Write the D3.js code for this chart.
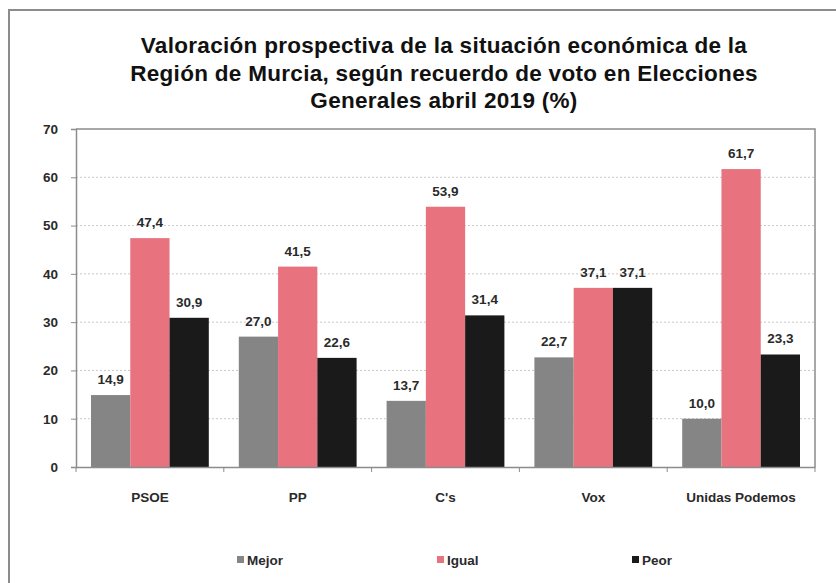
<!DOCTYPE html>
<html>
<head>
<meta charset="utf-8">
<script src="https://cdn.jsdelivr.net/npm/d3@7"></script>
<style>
  body { margin: 0; background: #fff; }
  text { font-family: "Liberation Sans", Arial, sans-serif; }
</style>
</head>
<body>
<div id="chart"></div>
<script>
// data
var categories = ["PSOE", "PP", "C's", "Vox", "Unidas Podemos"];
var seriesNames = ["Mejor", "Igual", "Peor"];
var mejor = [14.9, 27.0, 13.7, 22.7, 10.0];
var igual = [47.4, 41.5, 53.9, 37.1, 61.7];
var peor = [30.9, 22.6, 31.4, 37.1, 23.3];
var yTicks = [0, 10, 20, 30, 40, 50, 60, 70];
var titleLines = [
    "Valoración prospectiva de la situación económica de la",
    "Región de Murcia, según recuerdo de voto en Elecciones",
    "Generales abril 2019 (%)"
];

var colors = { "Mejor": "#858585", "Igual": "#e8737f", "Peor": "#1a1a1a" };
var seriesValues = [mejor, igual, peor];

var svgWidth = 836;
var svgHeight = 583;
var margin = { top: 129, right: 21, bottom: 116, left: 76 };
var width = svgWidth - margin.left - margin.right;
var height = svgHeight - margin.top - margin.bottom;

var svg = d3.select("#chart").append("svg")
    .attr("width", svgWidth)
    .attr("height", svgHeight);

// outer frame
svg.append("rect")
    .attr("x", 9).attr("y", 10)
    .attr("width", 840).attr("height", 590)
    .attr("fill", "#fff")
    .attr("stroke", "#8c8c8c")
    .attr("stroke-width", 2);

// title
svg.append("text")
    .attr("text-anchor", "middle")
    .attr("font-size", "22.5px")
    .attr("font-weight", "bold")
    .attr("letter-spacing", "0.3px")
    .attr("fill", "#111")
    .selectAll("tspan")
    .data(titleLines)
    .enter()
    .append("tspan")
    .attr("x", 444)
    .attr("y", (d, i) => 53 + i * 27.5)
    .text(d => d);

var chartGroup = svg.append("g")
    .attr("transform", `translate(${margin.left}, ${margin.top})`);

var x0 = d3.scaleBand()
    .domain(categories)
    .range([0, width]);

var x1 = d3.scaleBand()
    .domain(seriesNames)
    .range([15, x0.bandwidth() - 15]);

var y = d3.scaleLinear()
    .domain([0, 70])
    .range([height, 0]);

// gridlines
chartGroup.append("g")
    .selectAll("line")
    .data(yTicks.filter(t => t > 0 && t < 70))
    .enter()
    .append("line")
    .attr("x1", 0).attr("x2", width)
    .attr("y1", d => y(d)).attr("y2", d => y(d))
    .attr("stroke", "#c8c8c8")
    .attr("stroke-dasharray", "2,2");

// plot border (top + right)
chartGroup.append("path")
    .attr("d", `M0,0H${width}V${height}`)
    .attr("fill", "none")
    .attr("stroke", "#8c8c8c")
    .attr("stroke-width", 1.5);

// bars
var groups = chartGroup.selectAll(".cat")
    .data(categories)
    .enter()
    .append("g")
    .attr("transform", d => `translate(${x0(d)},0)`);

groups.selectAll("rect")
    .data((d, i) => seriesNames.map((s, j) => ({ s: s, v: seriesValues[j][i] })))
    .enter()
    .append("rect")
    .attr("x", d => x1(d.s))
    .attr("y", d => y(d.v))
    .attr("width", x1.bandwidth())
    .attr("height", d => height - y(d.v))
    .attr("fill", d => colors[d.s]);

groups.selectAll("text")
    .data((d, i) => seriesNames.map((s, j) => ({ s: s, v: seriesValues[j][i] })))
    .enter()
    .append("text")
    .attr("x", d => x1(d.s) + x1.bandwidth() / 2)
    .attr("y", d => y(d.v) - 11)
    .attr("text-anchor", "middle")
    .attr("font-size", "13.5px")
    .attr("font-weight", "bold")
    .attr("fill", "#2a2a2a")
    .text(d => d3.format(".1f")(d.v).replace(".", ","));

// axes
var leftAxis = d3.axisLeft(y).tickValues(yTicks).tickSize(5).tickPadding(13);
var yAxisG = chartGroup.append("g").call(leftAxis);
yAxisG.select(".domain").attr("stroke", "#8c8c8c").attr("stroke-width", 1.5);
yAxisG.selectAll(".tick line").attr("stroke", "#8c8c8c");
yAxisG.selectAll(".tick text")
    .attr("font-size", "13.5px")
    .attr("font-weight", "bold")
    .attr("fill", "#2a2a2a")
    .style("font-family", "Liberation Sans, Arial, sans-serif");

var bottomAxis = d3.axisBottom(x0).tickSize(0).tickPadding(25);
var xAxisG = chartGroup.append("g")
    .attr("transform", `translate(0, ${height})`)
    .call(bottomAxis);
xAxisG.select(".domain").attr("stroke", "#8c8c8c").attr("stroke-width", 1.5);
xAxisG.selectAll(".tick text")
    .attr("font-size", "13.5px")
    .attr("font-weight", "bold")
    .attr("fill", "#2a2a2a")
    .style("font-family", "Liberation Sans, Arial, sans-serif");

// tick marks between categories
chartGroup.append("g")
    .selectAll("line")
    .data(categories.map(c => x0(c)).concat([width]))
    .enter()
    .append("line")
    .attr("x1", d => d).attr("x2", d => d)
    .attr("y1", height).attr("y2", height + 5)
    .attr("stroke", "#8c8c8c");

// legend
var legendX = [237, 437, 632];
var legend = svg.append("g")
    .selectAll("g")
    .data(seriesNames)
    .enter()
    .append("g")
    .attr("transform", (d, i) => `translate(${legendX[i]}, 560)`);

legend.append("rect")
    .attr("x", 0).attr("y", -4)
    .attr("width", 7).attr("height", 7)
    .attr("fill", d => colors[d]);

legend.append("text")
    .attr("x", 10)
    .attr("y", 5)
    .attr("font-size", "13.5px")
    .attr("font-weight", "bold")
    .attr("fill", "#2a2a2a")
    .text(d => d);
</script>
</body>
</html>
